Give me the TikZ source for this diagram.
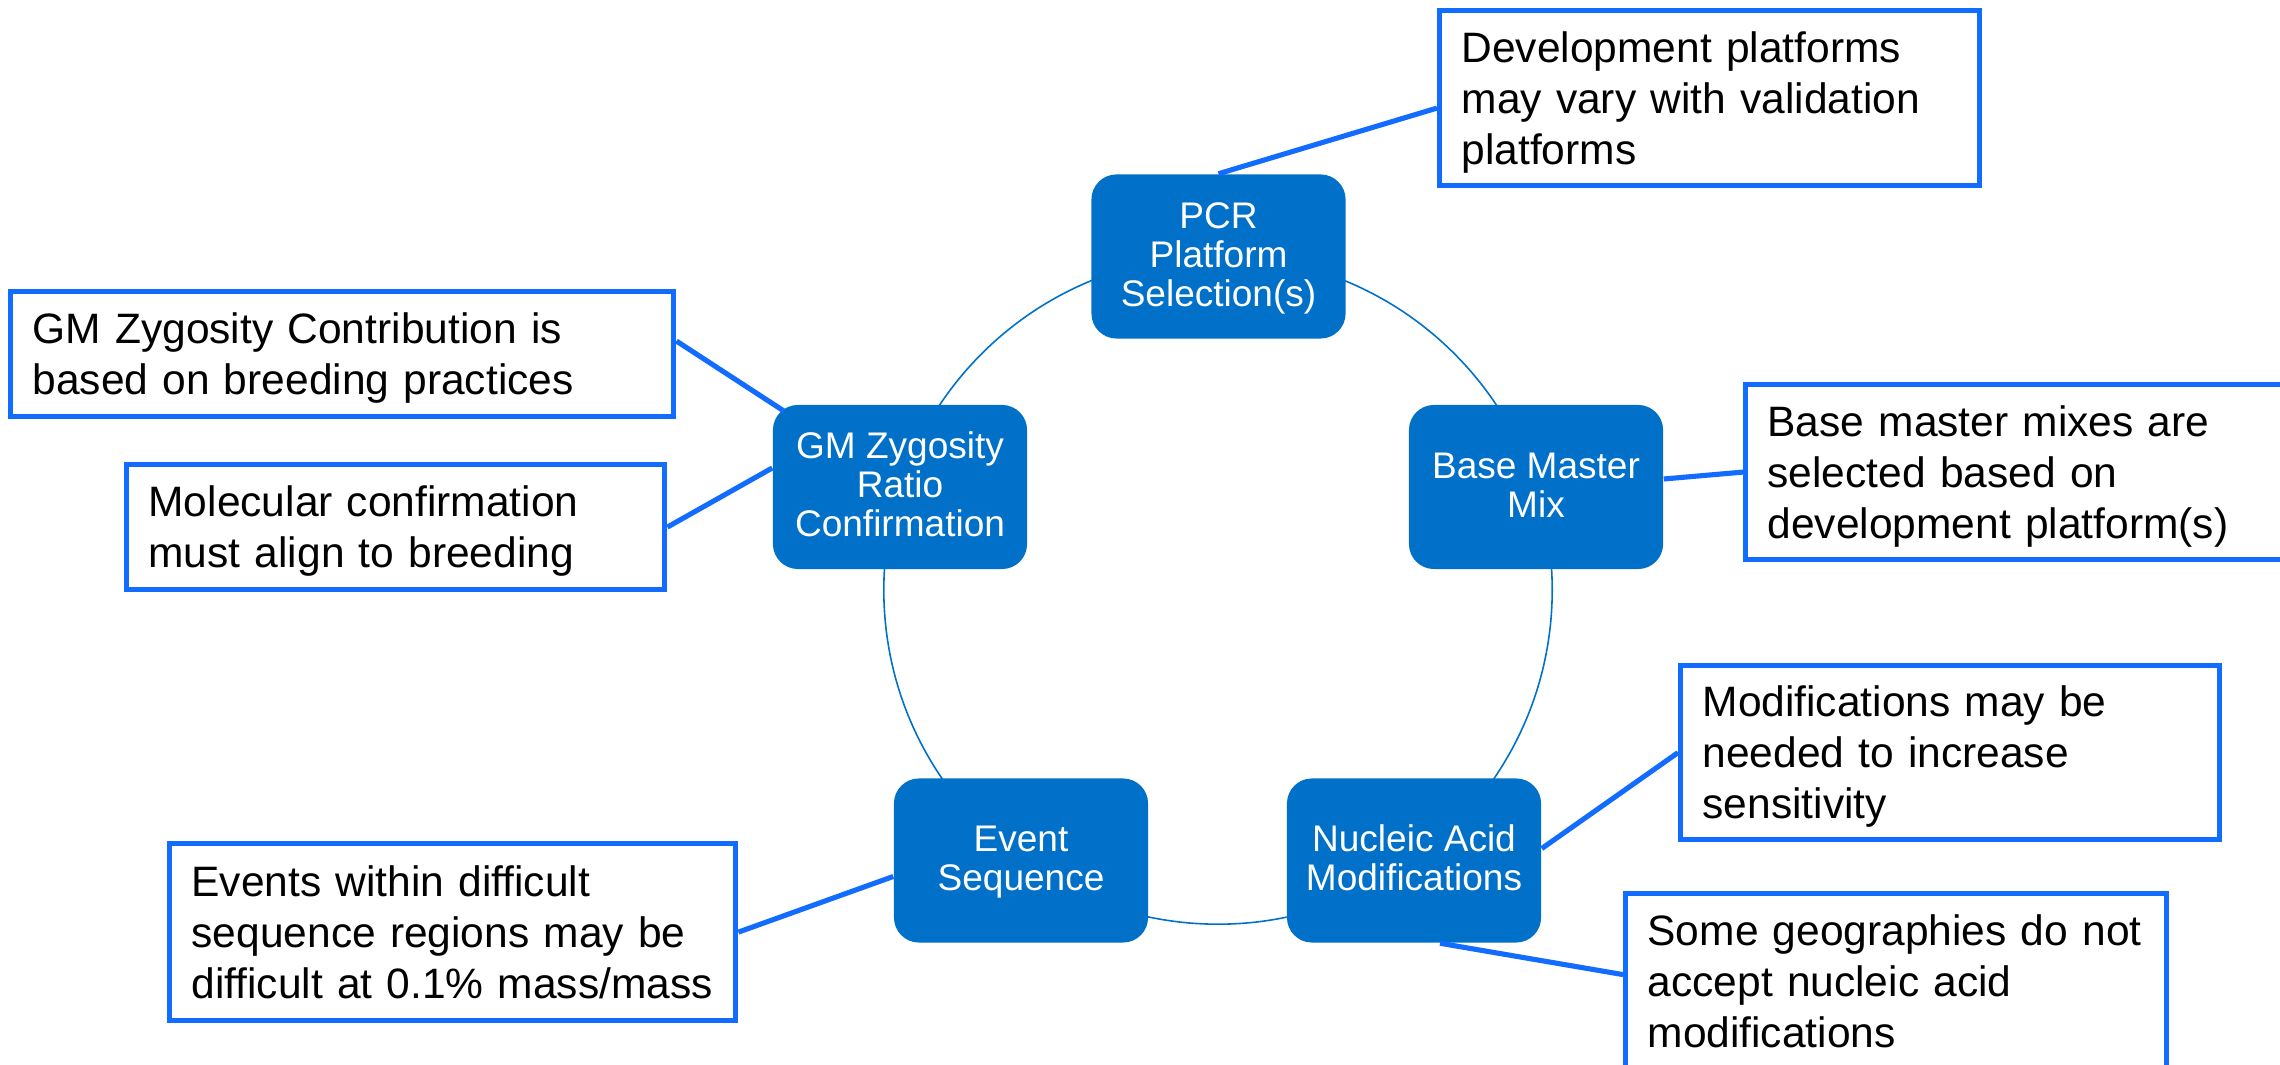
\documentclass[tikz,border=0pt]{standalone}
\usepackage{fontspec}
\setmainfont{Liberation Sans}
\usetikzlibrary{calc}
\definecolor{mainblue}{RGB}{0,112,200}
\definecolor{callblue}{RGB}{17,108,255}
\newcommand\cstrut{\rule[-0.2\baselineskip]{0pt}{\baselineskip}}
\newcommand\mstrut{\rule[-0.22\baselineskip]{0pt}{\baselineskip}}
\tikzset{
  mainbox/.style={rectangle, rounded corners=0.25cm, fill=mainblue, text=white,
    minimum width=2.54cm, minimum height=1.64cm, inner sep=0pt, align=center,
    font=\fontsize{10.53pt}{11.1pt}\selectfont},
  callout/.style={rectangle, draw=callblue, line width=1.45pt, fill=white,
    anchor=north west, inner xsep=0.22cm, inner ysep=0pt, align=left,
    font=\fontsize{12.09pt}{14.51pt}\selectfont},
  conn/.style={draw=callblue, line width=1.45pt},
  ring/.style={draw=mainblue, line width=0.45pt}
}
\begin{document}
\begin{tikzpicture}[x=0.01cm, y=-0.01cm]
\useasboundingbox (0,0) rectangle (2280,1065);
% cycle ring
\draw[ring] (1218,590) circle [radius=3.34cm];
% main nodes
\node[mainbox] (pcr) at (1218.5,256.5) {\mstrut PCR\\ \mstrut Platform\\ \mstrut Selection(s)};
\node[mainbox] (bmm) at (1536,487) {\mstrut Base Master\\ \mstrut Mix};
\node[mainbox] (gm) at (900,487) {\mstrut GM Zygosity\\ \mstrut Ratio\\ \mstrut Confirmation};
\node[mainbox] (ev) at (1021,860.5) {\mstrut Event\\ \mstrut Sequence};
\node[mainbox] (nuc) at (1414,860.5) {\mstrut Nucleic Acid\\ \mstrut Modifications};
% callouts
\node[callout, text width=4.96cm, minimum height=1.75cm] (dev) at (1437,8)
  {\cstrut Development platforms\\ \cstrut may vary with validation\\ \cstrut platforms};
\node[callout, text width=6.19cm, minimum height=1.25cm] (contrib) at (8,289)
  {\cstrut GM Zygosity Contribution is\\ \cstrut based on breeding practices};
\node[callout, text width=4.94cm, minimum height=1.25cm] (molec) at (124,462)
  {\cstrut Molecular confirmation\\ \cstrut must align to breeding};
\node[callout, text width=5.16cm, minimum height=1.75cm] (bmmtext) at (1743,382)
  {\cstrut Base master mixes are\\ \cstrut selected based on\\ \cstrut development platform(s)};
\node[callout, text width=4.95cm, minimum height=1.74cm] (mods) at (1678,663)
  {\cstrut Modifications may be\\ \cstrut needed to increase\\ \cstrut sensitivity};
\node[callout, text width=4.97cm, minimum height=1.76cm] (geo) at (1623,891)
  {\cstrut Some geographies do not\\ \cstrut accept nucleic acid\\ \cstrut modifications};
\node[callout, text width=5.22cm, minimum height=1.77cm] (events) at (167,841)
  {\cstrut Events within difficult\\ \cstrut sequence regions may be\\ \cstrut difficult at 0.1\% mass/mass};
% connectors
\draw[conn] (pcr.north) -- ($(dev.west)+(0,10)$);
\draw[conn] ($(gm.north west)+(12,7)$) -- ($(contrib.east)+(0,-13)$);
\draw[conn] ($(gm.west)+(0,-19)$) -- (molec.east);
\draw[conn] ($(bmm.east)+(0,-8)$) -- (bmmtext.west);
\draw[conn] ($(nuc.east)+(0,-12)$) -- (mods.west);
\draw[conn] ($(nuc.south)+(26,0)$) -- ($(geo.west)+(0,-7)$);
\draw[conn] ($(ev.west)+(0,16)$) -- (events.east);
\end{tikzpicture}
\end{document}
